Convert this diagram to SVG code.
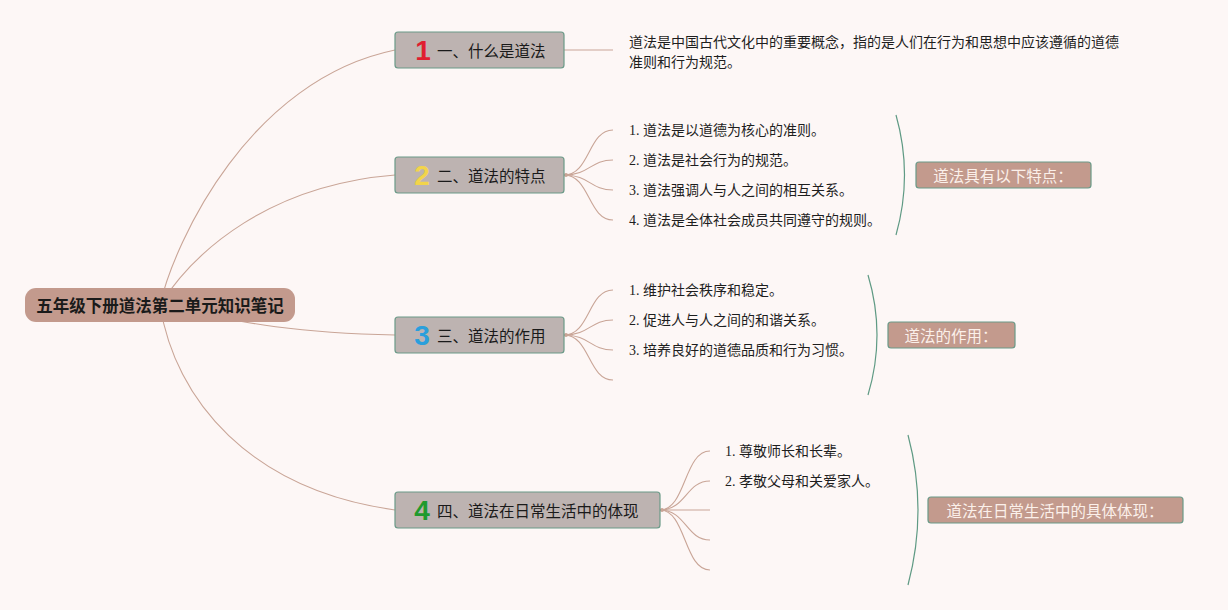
<svg xmlns="http://www.w3.org/2000/svg" width="1228" height="610" viewBox="0 0 1228 610">
<defs>
<style>
.bg{fill:#fdf7f6}
.conn{fill:none;stroke:#c9a597;stroke-width:1.1}
.brace{fill:none;stroke:#5f9a84;stroke-width:1.2}
.root{fill:#c39a8d}
.rootT{font-family:"Noto Sans CJK SC","Noto Sans",sans-serif;font-size:16.5px;font-weight:bold;fill:#1a1a1a}
.node{fill:#bdb3b1;stroke:#6b9a88;stroke-width:1.2}
.nodeT{font-family:"Noto Sans CJK SC","Noto Sans",sans-serif;font-size:15.5px;fill:#1a1a1a}
.num{font-family:"Liberation Sans","Noto Sans",sans-serif;font-size:28px;font-weight:bold}
.item{font-family:"Liberation Serif","Noto Sans CJK SC",serif;font-size:14px;fill:#1e1e1e}
.para{font-family:"Noto Sans CJK SC","Noto Sans",sans-serif;font-size:14px;fill:#1e1e1e}
.sum{fill:#c39a8d;stroke:#6b9a88;stroke-width:1.2}
.sumT{font-family:"Noto Sans CJK SC","Noto Sans",sans-serif;font-size:15.5px;fill:#fbf0ea}
</style>
</defs>
<rect class="bg" x="0" y="0" width="1228" height="610"/>
<g id="connectors">
<path class="conn" d="M160,305 C175,240 250,80 395,50"/>
<path class="conn" d="M160,305 C195,250 270,185 395,175"/>
<path class="conn" d="M160,305 C250,325 300,333 395,335"/>
<path class="conn" d="M160,305 C175,400 250,490 395,510"/>
<path class="conn" d="M564,50 L613,50"/>
<path class="conn" d="M564,175 C590,175 588,130 613,130"/>
<path class="conn" d="M564,175 C590,175 590,160 613,160"/>
<path class="conn" d="M564,175 C590,175 590,190 613,190"/>
<path class="conn" d="M564,175 C590,175 588,220 613,220"/>
<circle cx="566" cy="175" r="2" fill="#c9a597"/>
<path class="conn" d="M564,335 C590,335 588,290 613,290"/>
<path class="conn" d="M564,335 C590,335 590,320 613,320"/>
<path class="conn" d="M564,335 C590,335 590,350 613,350"/>
<path class="conn" d="M564,335 C590,335 588,380 613,380"/>
<circle cx="566" cy="335" r="2" fill="#c9a597"/>
<path class="conn" d="M660,510 C686,510 684,451 710,451"/>
<path class="conn" d="M660,510 C686,510 686,481 710,481"/>
<path class="conn" d="M660,510 L710,510"/>
<path class="conn" d="M660,510 C686,510 686,540 710,540"/>
<path class="conn" d="M660,510 C686,510 684,570 710,570"/>
<circle cx="662" cy="510" r="2" fill="#c9a597"/>
<path class="brace" d="M896,115 Q913,175 896,235"/>
<path class="brace" d="M868,275 Q886,335 868,395"/>
<path class="brace" d="M908,435 Q928,510 908,585"/>
</g>
<g id="root">
<rect class="root" x="25" y="288" width="270" height="34" rx="11"/>
<text class="rootT" x="160" y="305" text-anchor="middle" dominant-baseline="central">五年级下册道法第二单元知识笔记</text>
</g>
<g id="node1">
<rect class="node" x="395" y="32" width="169" height="36" rx="3"/>
<text class="num" x="423" y="50" text-anchor="middle" dominant-baseline="central" fill="#e01e30">1</text>
<text class="nodeT" x="437" y="50" dominant-baseline="central">一、什么是道法</text>
</g>
<g id="node1-text">
<text class="para" x="629" y="41" dominant-baseline="central">道法是中国古代文化中的重要概念，指的是人们在行为和思想中应该遵循的道德</text>
<text class="para" x="629" y="61" dominant-baseline="central">准则和行为规范。</text>
</g>
<g id="node2">
<rect class="node" x="395" y="157" width="169" height="36" rx="3"/>
<text class="num" x="422" y="175" text-anchor="middle" dominant-baseline="central" fill="#f2d44a">2</text>
<text class="nodeT" x="437" y="175" dominant-baseline="central">二、道法的特点</text>
</g>
<g id="node2-items">
<text class="item" x="629" y="130" dominant-baseline="central">1. 道法是以道德为核心的准则。</text>
<text class="item" x="629" y="160" dominant-baseline="central">2. 道法是社会行为的规范。</text>
<text class="item" x="629" y="190" dominant-baseline="central">3. 道法强调人与人之间的相互关系。</text>
<text class="item" x="629" y="220" dominant-baseline="central">4. 道法是全体社会成员共同遵守的规则。</text>
</g>
<g id="summary2">
<rect class="sum" x="916" y="162" width="175" height="26" rx="3"/>
<text class="sumT" x="1003" y="175" text-anchor="middle" dominant-baseline="central">道法具有以下特点：</text>
</g>
<g id="node3">
<rect class="node" x="395" y="317" width="169" height="36" rx="3"/>
<text class="num" x="422" y="335" text-anchor="middle" dominant-baseline="central" fill="#2a9fdc">3</text>
<text class="nodeT" x="437" y="335" dominant-baseline="central">三、道法的作用</text>
</g>
<g id="node3-items">
<text class="item" x="629" y="290" dominant-baseline="central">1. 维护社会秩序和稳定。</text>
<text class="item" x="629" y="320" dominant-baseline="central">2. 促进人与人之间的和谐关系。</text>
<text class="item" x="629" y="350" dominant-baseline="central">3. 培养良好的道德品质和行为习惯。</text>
</g>
<g id="summary3">
<rect class="sum" x="888" y="322" width="127" height="26" rx="3"/>
<text class="sumT" x="951" y="335" text-anchor="middle" dominant-baseline="central">道法的作用：</text>
</g>
<g id="node4">
<rect class="node" x="395" y="492" width="265" height="36" rx="3"/>
<text class="num" x="422" y="510" text-anchor="middle" dominant-baseline="central" fill="#1f9a2e">4</text>
<text class="nodeT" x="437" y="510" dominant-baseline="central">四、道法在日常生活中的体现</text>
</g>
<g id="node4-items">
<text class="item" x="725" y="451" dominant-baseline="central">1. 尊敬师长和长辈。</text>
<text class="item" x="725" y="481" dominant-baseline="central">2. 孝敬父母和关爱家人。</text>
</g>
<g id="summary4">
<rect class="sum" x="928" y="497" width="255" height="26" rx="3"/>
<text class="sumT" x="1055" y="510" text-anchor="middle" dominant-baseline="central">道法在日常生活中的具体体现：</text>
</g>
</svg>
